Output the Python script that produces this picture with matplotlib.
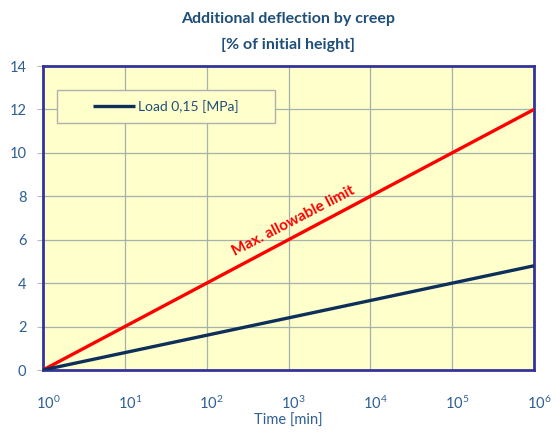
import matplotlib.pyplot as plt
import matplotlib.transforms as mtransforms
from matplotlib.patches import Rectangle

# data (log time axis, deflection in %)
tempo_min = [1, 10, 100, 1000, 10000, 100000, 1000000]
carga_015 = [0.0, 0.8, 1.6, 2.4, 3.2, 4.0, 4.8]
limite_max = [0.0, 2.0, 4.0, 6.0, 8.0, 10.0, 12.0]
y_ticks = [0, 2, 4, 6, 8, 10, 12, 14]

plt.rcParams['font.family'] = ['Lato', 'DejaVu Sans']

cor_texto = '#2F5F94'
cor_titulo = '#1F4E79'

fig = plt.figure(figsize=(5.56, 4.34), dpi=100)
ax = fig.add_axes([43 / 556, 64 / 434, 491 / 556, 304 / 434])
ax.set_facecolor('#FFFFCC')

ax.plot(tempo_min, limite_max, color='#FF0000', lw=2.4, solid_capstyle='butt', zorder=3)
ax.plot(tempo_min, carga_015, color='#0D2F5A', lw=2.4, solid_capstyle='butt', zorder=3,
        label='Load 0,15 [MPa]')

ax.set_xscale('log')
ax.set_xlim(1, 1e6)
ax.set_ylim(0, 14)
ax.set_yticks(y_ticks)
ax.set_xticks(tempo_min)
ax.minorticks_off()
ax.grid(True, color='#A3B3AC', lw=0.9)
ax.set_axisbelow(True)

for s in ax.spines.values():
    s.set_color('#33339A')
    s.set_linewidth(2.0)

ax.tick_params(axis='y', length=4, color='#BBBBBB', labelsize=10.5, labelcolor=cor_texto, pad=8)
ax.tick_params(axis='x', length=0, labelsize=10.5, labelcolor=cor_texto, pad=18)
desloc = mtransforms.ScaledTranslation(5 / 100, 0, fig.dpi_scale_trans)
for lb in ax.get_xticklabels():
    lb.set_transform(lb.get_transform() + desloc)

ax.set_xlabel('Time [min]', fontsize=10.5, color=cor_texto, labelpad=1)

fig.text(0.518, 0.957, 'Additional deflection by creep', ha='center', va='center',
         fontsize=11.5, fontweight='bold', color=cor_titulo)
fig.text(0.518, 0.897, '[% of initial height]', ha='center', va='center',
         fontsize=11.5, fontweight='bold', color=cor_titulo)

ax.text(1150, 6.85, 'Max. allowable limit', rotation=27.5, rotation_mode='anchor',
        ha='center', va='center', color='#FF0000', fontsize=11, fontweight='bold', zorder=4)

# legend box
ax.add_patch(Rectangle((0.0285, 0.8125), 0.444, 0.1085, transform=ax.transAxes,
                       facecolor='#FFFFCC', edgecolor='#B0B0B0', lw=1.0, zorder=4))
leg = ax.legend(loc='center', bbox_to_anchor=(0.2505, 0.867), frameon=False,
                fontsize=10, handlelength=3.0, handletextpad=0.2, labelcolor=cor_titulo)
leg.set_zorder(5)

fig.savefig('out.png', dpi=100)
